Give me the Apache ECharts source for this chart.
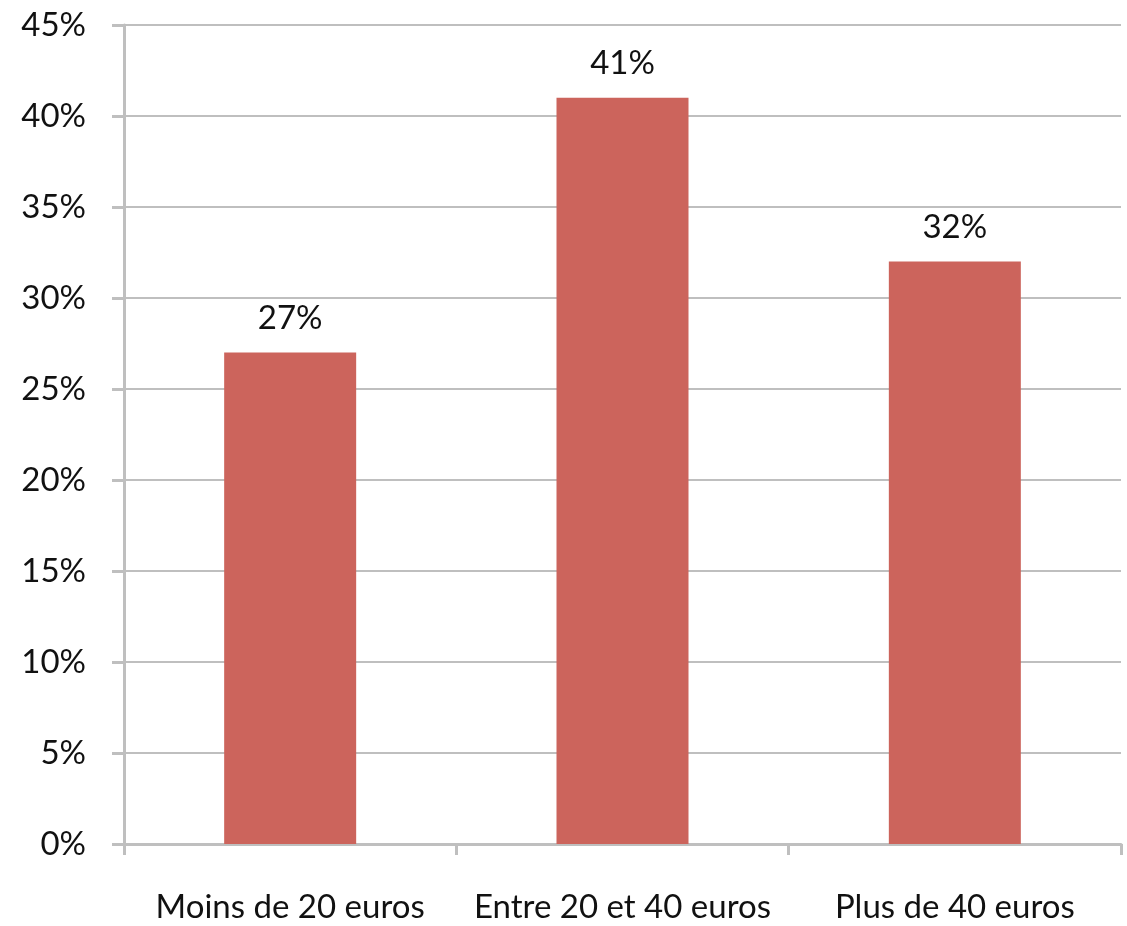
<!DOCTYPE html>
<html>
<head>
<meta charset="utf-8">
<script src="https://cdn.jsdelivr.net/npm/echarts@6/dist/echarts.min.js"></script>
<style>
  html, body { margin: 0; padding: 0; background: #fff; }
  #chart { width: 1127px; height: 926px; }
</style>
</head>
<body>
<div id="chart"></div>
<script>
const categories = ['Moins de 20 euros', 'Entre 20 et 40 euros', 'Plus de 40 euros'];
const shares = [27, 41, 32];

const font = 'Lato, "Open Sans", sans-serif';
const chart = echarts.init(document.getElementById('chart'));
chart.setOption({
  animation: false,
  grid: { left: 124, right: 6, top: 25, bottom: 82 },
  xAxis: {
    type: 'category',
    data: categories,
    axisLine: { lineStyle: { color: '#bfbfbf', width: 3 } },
    axisTick: { show: true, interval: 0, length: 11, lineStyle: { color: '#bfbfbf', width: 3 } },
    axisLabel: { interval: 0, color: '#111', fontFamily: font, fontSize: 33, margin: 47 },
  },
  yAxis: {
    type: 'value',
    min: 0,
    max: 45,
    interval: 5,
    axisLine: { show: true, lineStyle: { color: '#bfbfbf', width: 3 } },
    axisTick: { show: true, length: 12, lineStyle: { color: '#bfbfbf', width: 3 } },
    splitLine: { lineStyle: { color: '#bfbfbf', width: 2 } },
    axisLabel: { color: '#111', fontFamily: font, fontSize: 33, margin: 38, formatter: '{value}%' },
  },
  series: [{
    type: 'bar',
    data: shares,
    barWidth: 132,
    itemStyle: { color: '#cc645c' },
    label: {
      show: true,
      position: 'top',
      distance: 18,
      color: '#111',
      fontFamily: font,
      fontSize: 33,
      formatter: '{c}%',
    },
  }],
});
</script>
</body>
</html>
